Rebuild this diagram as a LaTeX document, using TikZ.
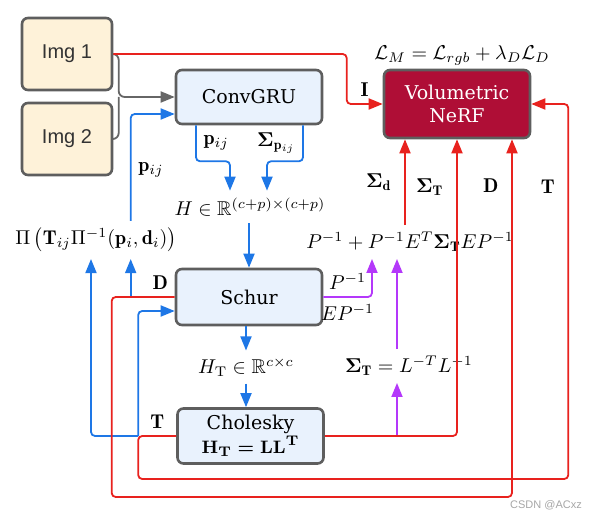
\documentclass[tikz,border=0pt]{standalone}
\usepackage{amsmath,amssymb,bm}
\usepackage{fontspec}
\newfontfamily\boxfont{DejaVu Serif}
\newfontfamily\imgfont{Liberation Sans}
\usetikzlibrary{arrows.meta,calc}
\definecolor{boxgray}{HTML}{5E5E5E}
\definecolor{boxblue}{HTML}{E9F2FD}
\definecolor{imgfill}{HTML}{FEF2D9}
\definecolor{nerfred}{HTML}{AF0E36}
\definecolor{myblue}{HTML}{1E77E6}
\definecolor{myred}{HTML}{E8221E}
\definecolor{mypurple}{HTML}{B438FA}
\definecolor{linegray}{HTML}{666666}
\begin{document}
\begin{tikzpicture}[x=0.5pt,y=-0.5pt]

\tikzstyle{box1}=[rectangle, draw=boxgray, fill=boxblue, rounded corners=3pt, line width=1.3pt, align=center, minimum width=73pt, font=\boxfont\fontsize{9.5}{10.5}\selectfont]
\tikzstyle{box2}=[rectangle, draw=boxgray, fill=imgfill, rounded corners=3pt, line width=1.3pt, minimum width=45pt, minimum height=36pt, text=black!80, font=\imgfont\fontsize{10}{12}\selectfont]
\tikzstyle{box3}=[box1, fill=nerfred, text=white, font=\boxfont\fontsize{9.5}{11.5}\selectfont]
\tikzstyle{arrow}=[-{Triangle[length=7pt,width=5.5pt]}, line width=0.9pt, rounded corners=2pt, nodes={text=black}]
\tikzstyle{line}=[line width=0.9pt, rounded corners=3pt]

\useasboundingbox (0,0) rectangle (591,518);

\node (img1) [box2] at (67,54) {Img 1};
\node (img2) [box2] at (67,139) {Img 2};
\node (convgru) [box1, minimum height=27pt] at (249,97) {ConvGRU};
\node (nerf) [box3, minimum height=34pt] at (457,104) {Volumetric\\NeRF};
\node (schur) [box1, minimum height=28pt] at (249,297) {Schur};
\node (chol) [box1, minimum height=27.5pt] at (250.5,436) {Cholesky\\{\boldmath$\mathbf{H}_{\mathbf{T}} = \mathbf{L}\mathbf{L}^{\mathbf{T}}$}};

\node (loss) at (462,55) {$\mathcal{L}_M = \mathcal{L}_{rgb} + \lambda_D \mathcal{L}_D$};
\node (H) at (250,207) {$H \in \mathbb{R}^{(c+p)\times(c+p)}$};
\node (proj) at (96,240) {$\Pi\left(\mathbf{T}_{ij}\Pi^{-1}(\mathbf{p}_i,\mathbf{d}_i)\right)$};
\node (cov) at (410,242) {$P^{-1}+P^{-1}E^T\boldsymbol{\Sigma}_{\mathbf{T}}EP^{-1}$};
\node (sigT) at (409,366) {$\boldsymbol{\Sigma}_{\mathbf{T}} = L^{-T}L^{-1}$};
\node (HT) at (246,367) {$H_{\mathrm{T}} \in \mathbb{R}^{c\times c}$};

\coordinate (jn) at ($(convgru.west)+(-56,0)$);
\coordinate (dj) at ($(schur.west)+(-44,0)$);
\coordinate (tj) at ($(chol.west)+(-38,0)$);
\coordinate (s1) at ($(sigT.south)+(-12,0)$);
\coordinate (c1) at ($(cov.north)+(-5,0)$);

% images into ConvGRU
\draw [arrow, linegray, rounded corners=3pt] (img1.east) -| (jn) -- (convgru.west);
\draw [line, linegray] (img2.east) -| (jn);

% blue: flow and Schur complement
\draw [arrow, myblue] ($(convgru.south)+(-53,0)$) -- node[right] {$\mathbf{p}_{ij}$} ++(0,36) -| ($(H.north)+(-20,0)$);
\draw [arrow, myblue] ($(convgru.south)+(54,0)$) -- node[left] {$\boldsymbol{\Sigma}_{\mathbf{p}_{ij}}$} ++(0,36) -| ($(H.north)+(17,0)$);
\draw [arrow, myblue] (H.south -| schur.north) -- (schur.north);
\draw [arrow, myblue] (proj.north -| dj) |- node[pos=0.24, right] {$\mathbf{p}_{ij}$} ($(convgru.west)+(0,17)$);
\draw [arrow, myblue] (dj) -- (proj.south -| dj);
\draw [arrow, myblue] (tj) -| ($(proj.south)+(-5,0)$);
\draw [arrow, myblue] (tj) |- ($(schur.west)+(0,14)$);
\draw [arrow, myblue] (schur.south -| HT.north) -- (HT.north);
\draw [arrow, myblue] (HT.south) -- (HT.south |- chol.north);

% purple: covariance
\draw [arrow, mypurple] (schur.east) -| node[pos=0.25, above] {$P^{-1}$} node[pos=0.25, below] {$EP^{-1}$} ($(cov.south)+(-38,0)$);
\draw [arrow, mypurple] (s1 |- chol.east) -- (s1);
\draw [arrow, mypurple] (sigT.north -| s1) -- (cov.south -| s1);

% red: into NeRF
\draw [arrow, myred] (img1.east) -| ($(nerf.west)+(-36,0)$) -- node[above] {$\mathbf{I}$} (nerf.west);
\draw [arrow, myred] (c1) -- node[left=3pt] {$\boldsymbol{\Sigma}_{\mathbf{d}}$} (nerf.south -| c1);
\draw [arrow, myred] (chol.east) -| node[pos=0.92, left=3pt] {$\boldsymbol{\Sigma}_{\mathbf{T}}$} (nerf.south);
\draw [arrow, myred] (schur.west) -- node[pos=0.33, above] {$\mathbf{D}$} (dj) -- ++(-19,0) -- ++(0,200) -| node[pos=0.935, left=3pt] {$\mathbf{D}$} ($(nerf.south)+(55,0)$);
\draw [arrow, myred] (chol.west) -- node[above] {$\mathbf{T}$} (tj) -- ++(0,43) -| node[pos=0.89, left=3pt] {$\mathbf{T}$} ($(nerf.east)+(37,0)$) -- (nerf.east);

\node (mark) at (546,505) {\imgfont\fontsize{5.5}{6}\selectfont\color{gray!70}CSDN @ACxz};

\end{tikzpicture}
\end{document}
